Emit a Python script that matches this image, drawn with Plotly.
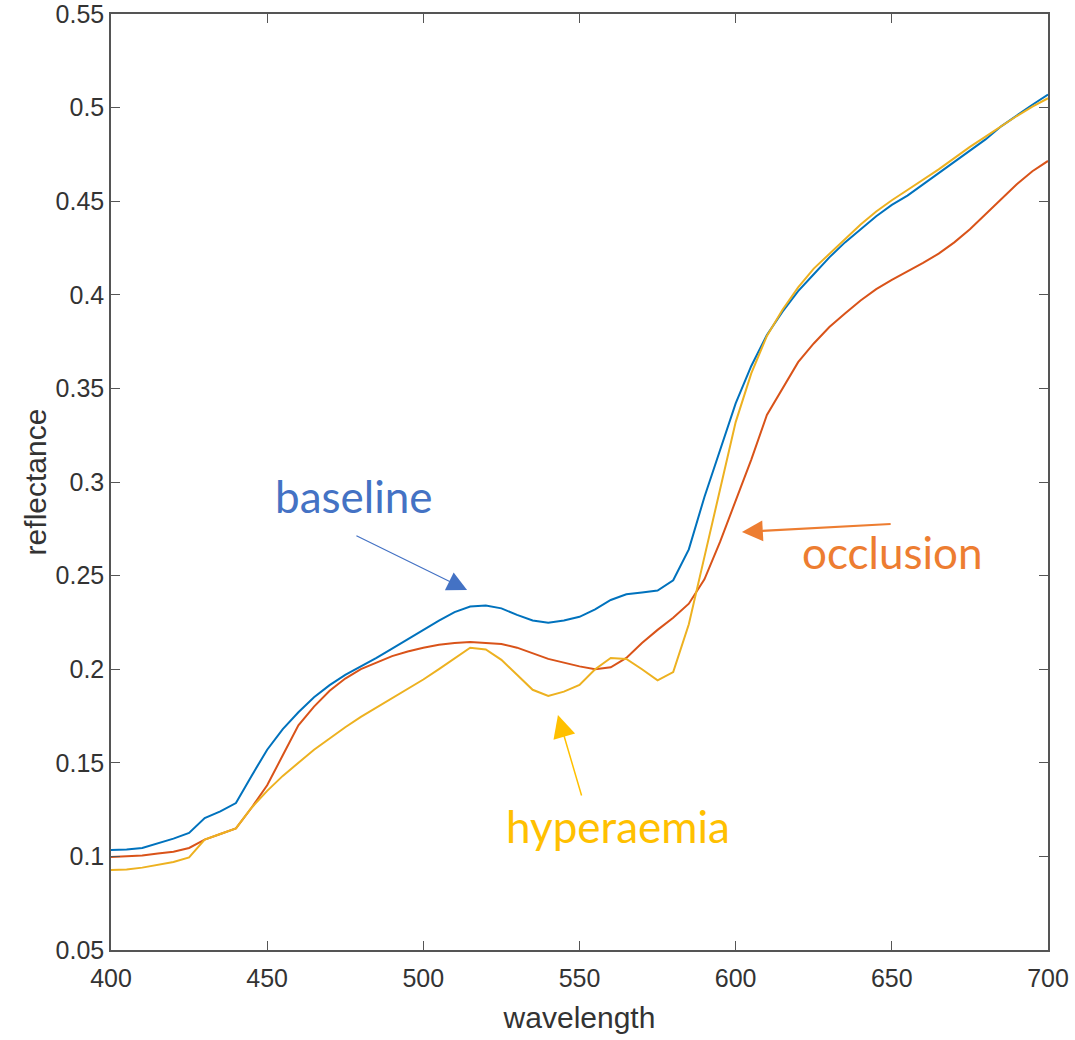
import plotly.graph_objects as go

wavelength = list(range(400, 701, 5))

baseline = [0.1034, 0.1037, 0.1045, 0.1070, 0.1095, 0.1125, 0.1205, 0.1240, 0.1285, 0.1430,
            0.1570, 0.1680, 0.1770, 0.1850, 0.1915, 0.1970, 0.2015, 0.2060, 0.2110, 0.2160,
            0.2210, 0.2260, 0.2305, 0.2335, 0.2340, 0.2325, 0.2290, 0.2260, 0.2248, 0.2260,
            0.2280, 0.2320, 0.2370, 0.2400, 0.2410, 0.2420, 0.2475, 0.2640, 0.2920, 0.3176,
            0.3420, 0.3620, 0.3785, 0.3910, 0.4020, 0.4110, 0.4200, 0.4280, 0.4350, 0.4420,
            0.4480, 0.4530, 0.4590, 0.4650, 0.4710, 0.4770, 0.4830, 0.4900, 0.4960, 0.5015,
            0.5070]

occlusion = [0.0997, 0.1000, 0.1005, 0.1015, 0.1025, 0.1045, 0.1090, 0.1120, 0.1150, 0.1260,
             0.1380, 0.1540, 0.1700, 0.1800, 0.1885, 0.1950, 0.2000, 0.2035, 0.2070, 0.2095,
             0.2115, 0.2130, 0.2140, 0.2145, 0.2142, 0.2135, 0.2115, 0.2087, 0.2055, 0.2035,
             0.2015, 0.2000, 0.2010, 0.2060, 0.2140, 0.2210, 0.2275, 0.2350, 0.2480, 0.2680,
             0.2900, 0.3120, 0.3358, 0.3500, 0.3640, 0.3740, 0.3828, 0.3900, 0.3970, 0.4030,
             0.4080, 0.4125, 0.4170, 0.4220, 0.4280, 0.4350, 0.4430, 0.4510, 0.4590, 0.4660,
             0.4715]

hyperaemia = [0.0927, 0.0930, 0.0940, 0.0955, 0.0970, 0.0995, 0.1090, 0.1120, 0.1150, 0.1260,
              0.1350, 0.1430, 0.1500, 0.1570, 0.1630, 0.1690, 0.1745, 0.1795, 0.1845, 0.1895,
              0.1945, 0.2000, 0.2060, 0.2115, 0.2105, 0.2050, 0.1970, 0.1890, 0.1857, 0.1880,
              0.1916, 0.2000, 0.2060, 0.2055, 0.2000, 0.1940, 0.1985, 0.2240, 0.2600, 0.2960,
              0.3320, 0.3580, 0.3780, 0.3920, 0.4040, 0.4140, 0.4220, 0.4300, 0.4375, 0.4445,
              0.4505, 0.4560, 0.4615, 0.4670, 0.4730, 0.4790, 0.4845, 0.4900, 0.4955, 0.5005,
              0.5050]

x_ticks = [400, 450, 500, 550, 600, 650, 700]
y_ticks = [0.05, 0.1, 0.15, 0.2, 0.25, 0.3, 0.35, 0.4, 0.45, 0.5, 0.55]
y_ticklabels = ["0.05", "0.1", "0.15", "0.2", "0.25", "0.3", "0.35", "0.4", "0.45", "0.5", "0.55"]

# annotation labels
labels = ["baseline", "occlusion", "hyperaemia"]
label_pos = [(477.8, 0.2925), (650.1, 0.2626), (562.3, 0.1162)]
arrow_tail = [(478.1, 0.2717), (650.1, 0.2776), (550.8, 0.1317)]
arrow_tip = [(514.0, 0.2423), (602.0, 0.2733), (543.1, 0.1755)]
label_colors = ["#4472C4", "#ED7D31", "#FFC000"]
arrow_widths = [1.2, 2.2, 1.5]
arrow_sizes = [3.3, 1.9, 3.0]

line_colors = ["#0072BD", "#D95319", "#EDB120"]

fig = go.Figure()
for name, ys, c in zip(["baseline", "occlusion", "hyperaemia"],
                       [baseline, occlusion, hyperaemia], line_colors):
    fig.add_trace(go.Scatter(x=wavelength, y=ys, mode="lines", name=name,
                             line=dict(color=c, width=2), showlegend=False))

annotations = []
for txt, (tx, ty), (ax, ay), (hx, hy), col, w, s in zip(labels, label_pos, arrow_tail,
                                                        arrow_tip, label_colors,
                                                        arrow_widths, arrow_sizes):
    annotations.append(dict(x=hx, y=hy, ax=ax, ay=ay, xref="x", yref="y",
                            axref="x", ayref="y", text="", showarrow=True,
                            arrowhead=2, arrowsize=s, arrowwidth=w, arrowcolor=col))
    annotations.append(dict(x=tx, y=ty, xref="x", yref="y", text=txt, showarrow=False,
                            font=dict(family="Lato", size=44, color=col)))

axis_common = dict(showline=True, linecolor="#555555", linewidth=1.5, mirror="ticks",
                   ticks="inside", ticklen=9, tickwidth=1.2, tickcolor="#555555",
                   showgrid=False, zeroline=False, automargin=False,
                   ticklabeloverflow="allow",
                   tickfont=dict(family="Liberation Sans", size=25, color="#333333"))

title_font = dict(family="Liberation Sans", size=30, color="#333333")

fig.update_layout(
    width=1075, height=1040,
    margin=dict(l=111, r=27, t=14, b=90),
    paper_bgcolor="white", plot_bgcolor="white",
    xaxis=dict(range=[400, 700], tickvals=x_ticks, ticklabelstandoff=5,
               title=dict(text="wavelength", standoff=16, font=title_font),
               **axis_common),
    yaxis=dict(range=[0.05, 0.55], tickvals=y_ticks, ticktext=y_ticklabels,
               title=dict(text="reflectance", standoff=0, font=title_font),
               **axis_common),
    annotations=annotations,
)

fig.write_html("out.html")
